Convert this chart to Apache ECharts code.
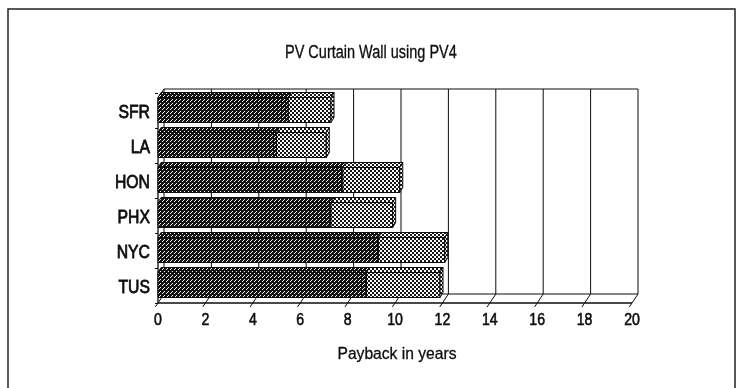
<!DOCTYPE html>
<html>
<head>
<meta charset="utf-8">
<script src="https://cdn.jsdelivr.net/npm/echarts@6/dist/echarts.min.js"></script>
<style>
  html, body { margin: 0; padding: 0; background: #fff; }
  #chart { width: 737px; height: 388px; }
</style>
</head>
<body>
<div id="chart"></div>
<script>
// Payback (years) per city: base component and additional component, stacked
const categories = ['SFR', 'LA', 'HON', 'PHX', 'NYC', 'TUS'];
const basePayback = [5.5, 5.0, 7.8, 7.3, 9.3, 8.8];
const extraPayback = [1.8, 2.1, 2.4, 2.6, 2.8, 3.1];
const xTicks = [0, 2, 4, 6, 8, 10, 12, 14, 16, 18, 20];
const titleText = 'PV Curtain Wall using PV4';
const xAxisTitle = 'Payback in years';

const FAMILY = "'Liberation Sans', Arial, sans-serif";
const INK = '#0d0d0d';
// horizontal squeeze to get a narrow typeface look
const NARROW = 0.83;

// Small repeating bitmap tiles used as hatch fills
function makePattern(size, bg, fg, rects) {
  const c = document.createElement('canvas');
  c.width = size; c.height = size;
  const g = c.getContext('2d');
  g.fillStyle = bg; g.fillRect(0, 0, size, size);
  g.fillStyle = fg;
  rects.forEach(r => g.fillRect(r[0], r[1], r[2] || 1, r[3] || 1));
  return { image: c, repeat: 'repeat' };
}
const darkFill = makePattern(4, '#121212', '#f2f2f2', [[3, 0], [2, 1], [0, 3]]);
const lightFill = makePattern(4, '#fbfbfb', '#151515', [[0, 0, 2, 2], [2, 2, 2, 2]]);

// depth of the walls / floor and of each bar
const WDX = 6, WDY = 9;
const BDX = 3, BDY = 5, BAR_H = 25;

const chart = echarts.init(document.getElementById('chart'), null, { renderer: 'canvas' });

function line(x1, y1, x2, y2, w) {
  return { type: 'line', shape: { x1, y1, x2, y2 }, style: { stroke: INK, lineWidth: w || 1 }, silent: true };
}

function label(text, x, y, size, align, vAlign, squeeze, weight) {
  return {
    type: 'text', x, y, scaleX: squeeze || NARROW, silent: true,
    style: {
      text, fill: INK, font: size + 'px ' + FAMILY, align, verticalAlign: vAlign,
      stroke: INK, lineWidth: weight == null ? 0.6 : weight
    }
  };
}

function renderWalls(params, api) {
  const cs = params.coordSys;
  const frontBottom = cs.y + cs.height;
  const frontTop = cs.y + 5;
  const backTop = frontTop - WDY;
  const backBottom = frontBottom - WDY;
  const x0 = api.coord([xTicks[0], 0])[0];
  const xEnd = api.coord([xTicks[xTicks.length - 1], 0])[0];
  const children = [];
  // back wall gridlines
  xTicks.forEach(v => {
    const x = api.coord([v, 0])[0] + WDX;
    children.push(line(x, backTop, x, backBottom, 1));
  });
  // back wall top edge
  children.push(line(x0 + WDX, backTop, xEnd + WDX, backTop, 1));
  // left wall
  children.push(line(x0, frontTop, x0, frontBottom, 1.3));
  children.push(line(x0, frontTop, x0 + WDX, backTop, 1));
  // floor with slanted tick marks
  children.push(line(x0 + WDX, backBottom, xEnd + WDX, backBottom, 1));
  children.push(line(x0, frontBottom, xEnd, frontBottom, 1.3));
  xTicks.forEach(v => {
    const x = api.coord([v, 0])[0];
    children.push(line(x + WDX, backBottom, x - WDX * 4 / WDY, frontBottom + 4, 1));
    children.push(label(String(v), x, frontBottom + 9, 17, 'center', 'top'));
  });
  // axis title
  children.push(label(xAxisTitle, (x0 + xEnd) / 2 + 2, frontBottom + 43, 17, 'center', 'top', 0.92, 0.3));
  return { type: 'group', children };
}

function poly(points, fill) {
  return { type: 'polygon', shape: { points }, style: { fill, stroke: INK, lineWidth: 1 } };
}

function renderBar(params, api) {
  const cat = api.value(2);
  const a = api.value(0), b = api.value(1);
  const p0 = api.coord([0, cat]);
  const p1 = api.coord([a, cat]);
  const p2 = api.coord([a + b, cat]);
  const yc = p0[1] - 0.5;
  const yt = yc - BAR_H / 2, yb = yc + BAR_H / 2;
  const xs = p0[0], xm = p1[0], xe = p2[0];
  return {
    type: 'group',
    children: [
      poly([[xs, yt], [xm, yt], [xm, yb], [xs, yb]], darkFill),
      poly([[xs, yt], [xs + BDX, yt - BDY], [xm + BDX, yt - BDY], [xm, yt]], darkFill),
      poly([[xm, yt], [xe, yt], [xe, yb], [xm, yb]], lightFill),
      poly([[xm, yt], [xm + BDX, yt - BDY], [xe + BDX, yt - BDY], [xe, yt]], lightFill),
      poly([[xe, yt], [xe + BDX, yt - BDY], [xe + BDX, yb - BDY], [xe, yb]], lightFill),
      label(categories[cat], xs - 8, yc + 2.5, 19, 'right', 'middle', NARROW, 0.8)
    ]
  };
}

const option = {
  backgroundColor: '#fff',
  animation: false,
  graphic: [
    {
      type: 'rect', silent: true, z: 100,
      shape: { x: 8, y: 9, width: 727, height: 400 },
      style: { fill: 'none', stroke: '#222', lineWidth: 1.5 }
    },
    {
      type: 'text', silent: true, x: 285, y: 44, scaleX: NARROW * 0.97,
      style: {
        text: titleText, fill: INK, font: '18px ' + FAMILY, align: 'left', verticalAlign: 'top',
        stroke: INK, lineWidth: 0.3
      }
    }
  ],
  grid: { left: 158, top: 93, width: 474, height: 210, containLabel: false },
  xAxis: {
    type: 'value', min: 0, max: 20, interval: 2,
    axisLine: { show: false }, axisTick: { show: false }, splitLine: { show: false },
    axisLabel: { show: false }
  },
  yAxis: {
    type: 'category', data: categories, inverse: true,
    axisLine: { show: false },
    axisTick: { show: true, length: 3, lineStyle: { color: INK } },
    axisLabel: { show: false },
    splitLine: { show: false }
  },
  series: [
    {
      type: 'custom', name: 'walls', renderItem: renderWalls,
      data: [[0, 0]], encode: { x: 0, y: 1 }, silent: true, z: 1, clip: false
    },
    {
      type: 'custom', name: 'payback', renderItem: renderBar,
      data: categories.map((c, i) => [basePayback[i], extraPayback[i], i]),
      encode: { x: [0, 1], y: 2 }, z: 2, clip: false
    }
  ]
};
chart.setOption(option);
</script>
</body>
</html>
